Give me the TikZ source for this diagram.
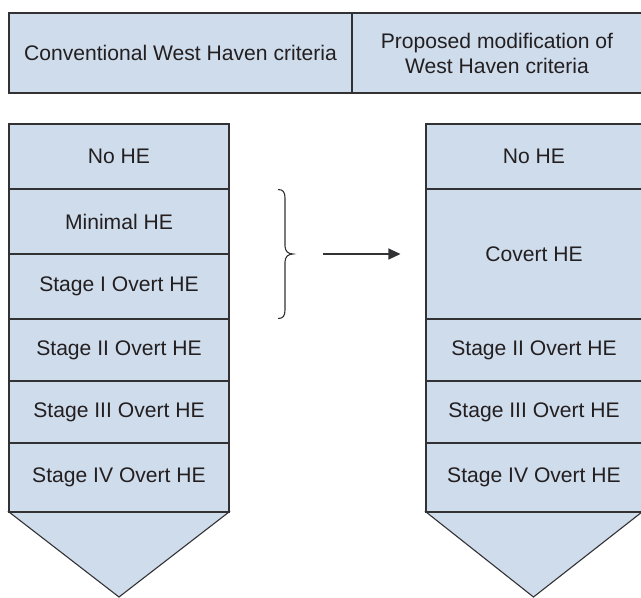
\documentclass[tikz,border=0pt]{standalone}
\usepackage{fontspec}
\setmainfont{Liberation Sans}
\usetikzlibrary{arrows.meta}
\definecolor{cellfill}{RGB}{207,220,236}
\definecolor{cellline}{RGB}{50,50,52}
\definecolor{txt}{RGB}{35,31,32}
\tikzset{
  cell/.style={draw=cellline, fill=cellfill, line width=1.1pt, rectangle, inner sep=0pt,
    text=txt, font=\fontsize{21.1}{25}\selectfont, align=center},
}
\begin{document}
\begin{tikzpicture}[x=1pt,y=-1pt]
\useasboundingbox (0,0) rectangle (641,598);
\clip (0,0) rectangle (641,598);
% header
\node[cell, minimum width=343pt, minimum height=80pt] (hl) at (180.5,53) {Conventional West Haven criteria};
\node[cell, minimum width=290pt, minimum height=80pt] (hr) at (497,53) {Proposed modification of\\West Haven criteria};
% left column
\filldraw[fill=cellfill, draw=cellline, line width=1.1pt, line join=miter] (9,512) -- (229,512) -- (119,597) -- cycle;
\node[cell, minimum width=220pt, minimum height=65pt] (lnohe) at (119,156.5) {No HE};
\node[cell, minimum width=220pt, minimum height=65pt] (lmin) at (119,221.5) {Minimal HE};
\node[cell, minimum width=220pt, minimum height=65pt] (lst1) at (119,286.5) {Stage I Overt HE};
\node[cell, minimum width=220pt, minimum height=62pt] (lst2) at (119,350) {Stage II Overt HE};
\node[cell, minimum width=220pt, minimum height=62pt] (lst3) at (119,412) {Stage III Overt HE};
\node[cell, minimum width=220pt, minimum height=69pt] (lst4) at (119,477.5) {Stage IV Overt HE};
% right column
\filldraw[fill=cellfill, draw=cellline, line width=1.1pt, line join=miter] (426,512) -- (642,512) -- (533.5,597) -- cycle;
\node[cell, minimum width=216pt, minimum height=65pt] (rnohe) at (534,156.5) {No HE};
\node[cell, minimum width=216pt, minimum height=130pt] (rcov) at (534,254) {Covert HE};
\node[cell, minimum width=216pt, minimum height=62pt] (rst2) at (534,350) {Stage II Overt HE};
\node[cell, minimum width=216pt, minimum height=62pt] (rst3) at (534,412) {Stage III Overt HE};
\node[cell, minimum width=216pt, minimum height=69pt] (rst4) at (534,477.5) {Stage IV Overt HE};
% brace
\coordinate (btop) at (278,189.5);
\coordinate (bbot) at (278,318.5);
\coordinate (btip) at (293,254);
\draw[cellline, line width=1.1pt]
  (btop) .. controls (283,189.5) and (285,192) .. (285,198)
  -- (285,246) .. controls (285,251) and (288,254) .. (btip)
  .. controls (288,254) and (285,257) .. (285,262)
  -- (285,310) .. controls (285,316) and (283,318.5) .. (bbot);
% arrow
\coordinate (astart) at (323,254);
\draw[cellline, line width=1.1pt, -{Triangle[length=12pt,width=11pt]}] (astart) -- ([xshift=-25pt]rcov.west);
\end{tikzpicture}
\end{document}
